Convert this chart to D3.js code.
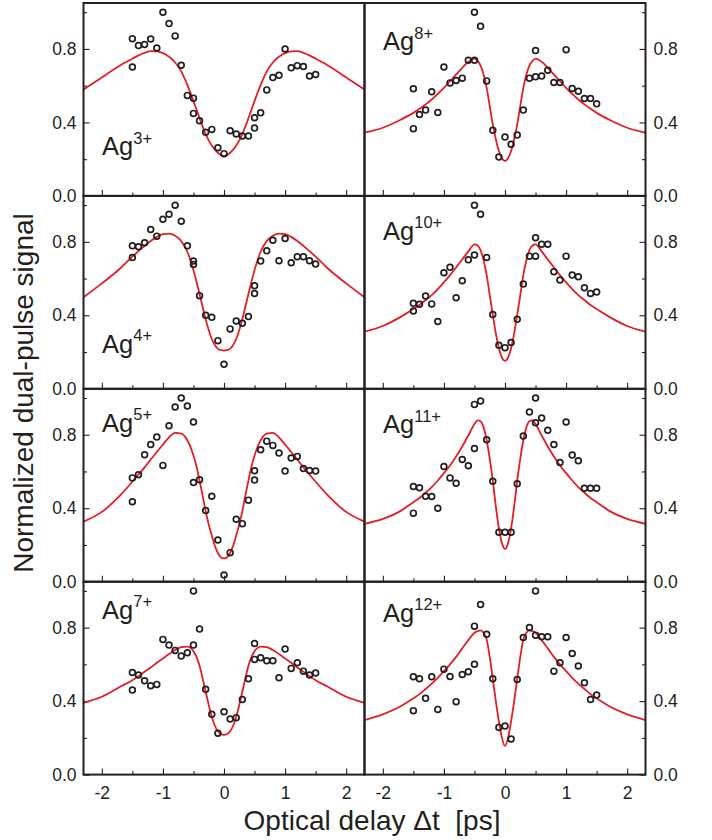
<!DOCTYPE html>
<html>
<head>
<meta charset="utf-8">
<script src="https://cdn.jsdelivr.net/npm/d3@7"></script>
<style>
  body { margin: 0; background: #fff; }
  svg { display: block; font-family: "Liberation Sans", Arial, Helvetica, sans-serif; }
</style>
</head>
<body>
<svg id="chart"></svg>
<script>
// delay grid (ps) used for all fitted curves
const fitDelay = [-2.3, -2.0, -1.7, -1.5, -1.4, -1.3, -1.2, -1.1, -1.0, -0.9, -0.8, -0.7, -0.6, -0.5, -0.45, -0.4, -0.35, -0.3, -0.25, -0.2, -0.15, -0.1, -0.05,
  0, 0.05, 0.1, 0.15, 0.2, 0.25, 0.3, 0.35, 0.4, 0.45, 0.5, 0.6, 0.7, 0.8, 0.9, 1.0, 1.1, 1.2, 1.3, 1.4, 1.5, 1.7, 2.0, 2.3]

const ag3Fit = [0.579, 0.645, 0.71, 0.747, 0.765, 0.779, 0.788, 0.787, 0.777, 0.757, 0.726, 0.678, 0.604, 0.516, 0.47, 0.423, 0.378, 0.336, 0.302, 0.274, 0.252, 0.235, 0.222,
  0.217, 0.222, 0.235, 0.252, 0.274, 0.302, 0.336, 0.378, 0.423, 0.47, 0.516, 0.604, 0.678, 0.726, 0.757, 0.777, 0.787, 0.788, 0.779, 0.765, 0.747, 0.71, 0.645, 0.579]
const ag4Fit = [0.498, 0.574, 0.655, 0.719, 0.749, 0.778, 0.805, 0.827, 0.842, 0.845, 0.833, 0.804, 0.746, 0.646, 0.583, 0.516, 0.447, 0.378, 0.32, 0.271, 0.239, 0.219, 0.21,
  0.208, 0.21, 0.219, 0.239, 0.271, 0.32, 0.378, 0.447, 0.516, 0.583, 0.646, 0.746, 0.804, 0.833, 0.845, 0.842, 0.827, 0.805, 0.778, 0.749, 0.719, 0.655, 0.574, 0.498]
const ag5Fit = [0.327, 0.38, 0.47, 0.544, 0.583, 0.622, 0.665, 0.706, 0.747, 0.786, 0.81, 0.806, 0.77, 0.687, 0.627, 0.551, 0.469, 0.384, 0.311, 0.251, 0.196, 0.156, 0.133,
  0.127, 0.133, 0.156, 0.196, 0.251, 0.311, 0.384, 0.469, 0.551, 0.627, 0.687, 0.77, 0.806, 0.81, 0.786, 0.747, 0.706, 0.665, 0.622, 0.583, 0.544, 0.47, 0.38, 0.327]
const ag7Fit = [0.391, 0.424, 0.478, 0.514, 0.536, 0.56, 0.583, 0.609, 0.632, 0.656, 0.678, 0.694, 0.697, 0.672, 0.641, 0.592, 0.524, 0.451, 0.379, 0.315, 0.266, 0.236, 0.221,
  0.216, 0.221, 0.236, 0.266, 0.315, 0.379, 0.451, 0.524, 0.592, 0.641, 0.672, 0.697, 0.694, 0.678, 0.656, 0.632, 0.609, 0.583, 0.56, 0.536, 0.514, 0.478, 0.424, 0.391]
const ag8Fit = [0.344, 0.371, 0.416, 0.452, 0.474, 0.498, 0.525, 0.556, 0.588, 0.624, 0.661, 0.697, 0.73, 0.747, 0.735, 0.709, 0.661, 0.588, 0.489, 0.389, 0.308, 0.244, 0.205,
  0.19, 0.205, 0.244, 0.308, 0.389, 0.489, 0.588, 0.661, 0.709, 0.735, 0.747, 0.73, 0.697, 0.661, 0.624, 0.588, 0.556, 0.525, 0.498, 0.474, 0.452, 0.416, 0.371, 0.344]
const ag10Fit = [0.311, 0.342, 0.393, 0.434, 0.456, 0.483, 0.51, 0.543, 0.579, 0.619, 0.661, 0.704, 0.748, 0.786, 0.78, 0.755, 0.70, 0.619, 0.51, 0.402, 0.302, 0.221, 0.17,
  0.152, 0.17, 0.221, 0.302, 0.402, 0.51, 0.619, 0.70, 0.755, 0.78, 0.786, 0.748, 0.704, 0.661, 0.619, 0.579, 0.543, 0.51, 0.483, 0.456, 0.434, 0.393, 0.342, 0.311]
const ag11Fit = [0.315, 0.342, 0.387, 0.433, 0.456, 0.484, 0.515, 0.551, 0.591, 0.633, 0.682, 0.736, 0.796, 0.858, 0.878, 0.873, 0.84, 0.77, 0.67, 0.55, 0.41, 0.29, 0.21,
  0.178, 0.21, 0.29, 0.41, 0.55, 0.67, 0.77, 0.84, 0.873, 0.878, 0.858, 0.796, 0.736, 0.682, 0.633, 0.591, 0.551, 0.515, 0.484, 0.456, 0.433, 0.387, 0.342, 0.315]
const ag12Fit = [0.297, 0.328, 0.373, 0.415, 0.438, 0.466, 0.495, 0.527, 0.563, 0.60, 0.641, 0.687, 0.732, 0.772, 0.781, 0.785, 0.772, 0.735, 0.64, 0.522, 0.40, 0.29, 0.2,
  0.156, 0.2, 0.29, 0.40, 0.522, 0.64, 0.735, 0.772, 0.785, 0.781, 0.772, 0.732, 0.687, 0.641, 0.60, 0.563, 0.527, 0.495, 0.466, 0.438, 0.415, 0.373, 0.328, 0.297]

// measured points [delay, signal]
const ag3Points = [[-1.5, 0.856], [-1.5, 0.702], [-1.4, 0.818], [-1.3, 0.824], [-1.2, 0.854], [-1.1, 0.805], [-1.0, 1.0], [-0.9, 0.938], [-0.8, 0.871], [-0.7, 0.711],
  [-0.6, 0.547], [-0.5, 0.532], [-0.5, 0.449], [-0.4, 0.409], [-0.3, 0.346], [-0.2, 0.362], [-0.1, 0.262], [0, 0.23], [0.1, 0.355], [0.2, 0.337], [0.3, 0.326],
  [0.4, 0.326], [0.5, 0.369], [0.5, 0.425], [0.6, 0.452], [0.7, 0.577], [0.8, 0.644], [0.9, 0.657], [1.0, 0.8], [1.1, 0.697], [1.2, 0.709], [1.3, 0.704], [1.4, 0.653], [1.5, 0.661]]
const ag4Points = [[-1.5, 0.778], [-1.5, 0.715], [-1.4, 0.773], [-1.3, 0.795], [-1.2, 0.867], [-1.1, 0.831], [-1.0, 0.923], [-0.9, 0.95], [-0.8, 0.999], [-0.7, 0.912],
  [-0.6, 0.778], [-0.5, 0.695], [-0.5, 0.677], [-0.4, 0.507], [-0.3, 0.40], [-0.2, 0.389], [-0.1, 0.262], [0, 0.134], [0.1, 0.326], [0.2, 0.369], [0.3, 0.357],
  [0.4, 0.393], [0.5, 0.561], [0.5, 0.519], [0.6, 0.695], [0.7, 0.751], [0.8, 0.809], [0.9, 0.697], [1.0, 0.818], [1.1, 0.686], [1.2, 0.719], [1.3, 0.719], [1.4, 0.697], [1.5, 0.679]]
const ag5Points = [[-1.5, 0.565], [-1.5, 0.435], [-1.4, 0.582], [-1.3, 0.691], [-1.2, 0.747], [-1.1, 0.787], [-1.0, 0.633], [-0.9, 0.849], [-0.8, 0.951], [-0.7, 1.0],
  [-0.6, 0.956], [-0.5, 0.869], [-0.5, 0.54], [-0.4, 0.555], [-0.3, 0.387], [-0.2, 0.465], [-0.1, 0.227], [0, 0.036], [0.1, 0.158], [0.2, 0.34], [0.3, 0.316],
  [0.4, 0.444], [0.5, 0.604], [0.5, 0.553], [0.6, 0.718], [0.7, 0.765], [0.8, 0.742], [0.9, 0.70], [1.0, 0.602], [1.1, 0.673], [1.2, 0.682], [1.3, 0.616], [1.4, 0.605], [1.5, 0.602]]
const ag7Points = [[-1.5, 0.556], [-1.5, 0.46], [-1.4, 0.542], [-1.3, 0.511], [-1.2, 0.484], [-1.1, 0.491], [-1.0, 0.736], [-0.9, 0.705], [-0.8, 0.676], [-0.7, 0.645],
  [-0.6, 0.663], [-0.5, 1.0], [-0.5, 0.705], [-0.4, 0.792], [-0.3, 0.464], [-0.2, 0.328], [-0.1, 0.225], [0, 0.342], [0.1, 0.303], [0.2, 0.31], [0.3, 0.409],
  [0.4, 0.522], [0.5, 0.714], [0.5, 0.627], [0.6, 0.636], [0.7, 0.62], [0.8, 0.62], [0.9, 0.527], [1.0, 0.683], [1.1, 0.578], [1.2, 0.609], [1.3, 0.563], [1.4, 0.542], [1.5, 0.553]]
const ag8Points = [[-1.5, 0.583], [-1.5, 0.366], [-1.4, 0.443], [-1.3, 0.467], [-1.2, 0.567], [-1.1, 0.454], [-1.0, 0.702], [-0.9, 0.615], [-0.8, 0.628], [-0.7, 0.641],
  [-0.6, 0.738], [-0.5, 0.738], [-0.5, 1.0], [-0.4, 0.923], [-0.3, 0.626], [-0.2, 0.357], [-0.1, 0.212], [0, 0.32], [0.1, 0.281], [0.2, 0.331], [0.3, 0.467],
  [0.4, 0.641], [0.5, 0.648], [0.5, 0.791], [0.6, 0.652], [0.7, 0.684], [0.8, 0.617], [0.9, 0.617], [1.0, 0.796], [1.1, 0.585], [1.2, 0.57], [1.3, 0.53], [1.4, 0.53], [1.5, 0.501]]
const ag10Points = [[-1.5, 0.465], [-1.5, 0.424], [-1.4, 0.46], [-1.3, 0.505], [-1.2, 0.462], [-1.1, 0.366], [-1.0, 0.632], [-0.9, 0.661], [-0.8, 0.496], [-0.7, 0.588],
  [-0.6, 0.702], [-0.5, 0.728], [-0.5, 0.999], [-0.4, 0.95], [-0.3, 0.715], [-0.2, 0.404], [-0.1, 0.237], [0, 0.224], [0.1, 0.252], [0.2, 0.378], [0.3, 0.57],
  [0.4, 0.722], [0.5, 0.722], [0.5, 0.822], [0.6, 0.787], [0.7, 0.787], [0.8, 0.637], [0.9, 0.592], [1.0, 0.722], [1.1, 0.619], [1.2, 0.61], [1.3, 0.55], [1.4, 0.519], [1.5, 0.527]]
const ag11Points = [[-1.5, 0.518], [-1.5, 0.373], [-1.4, 0.511], [-1.3, 0.465], [-1.2, 0.464], [-1.1, 0.40], [-1.0, 0.627], [-0.9, 0.565], [-0.8, 0.536], [-0.7, 0.665],
  [-0.6, 0.631], [-0.5, 0.725], [-0.5, 0.965], [-0.4, 0.984], [-0.3, 0.773], [-0.2, 0.547], [-0.1, 0.269], [0, 0.269], [0.1, 0.269], [0.2, 0.533], [0.3, 0.793],
  [0.4, 0.924], [0.5, 0.865], [0.5, 1.0], [0.6, 0.891], [0.7, 0.824], [0.8, 0.747], [0.9, 0.649], [1.0, 0.869], [1.1, 0.689], [1.2, 0.658], [1.3, 0.509], [1.4, 0.509], [1.5, 0.509]]
const ag12Points = [[-1.5, 0.533], [-1.5, 0.348], [-1.4, 0.522], [-1.3, 0.415], [-1.2, 0.533], [-1.1, 0.355], [-1.0, 0.574], [-0.9, 0.534], [-0.8, 0.397], [-0.7, 0.545],
  [-0.6, 0.56], [-0.5, 0.601], [-0.5, 0.808], [-0.4, 0.926], [-0.3, 0.764], [-0.2, 0.522], [-0.1, 0.257], [0, 0.264], [0.1, 0.194], [0.2, 0.518], [0.3, 0.746],
  [0.4, 0.801], [0.5, 0.759], [0.5, 1.0], [0.6, 0.75], [0.7, 0.75], [0.8, 0.563], [0.9, 0.609], [1.0, 0.746], [1.1, 0.659], [1.2, 0.591], [1.3, 0.5], [1.4, 0.409], [1.5, 0.433]]

const xMajor = [-2, -1, 0, 1, 2]
const xMinor = [-1.5, -0.5, 0.5, 1.5]
const yMajor = [0, 0.4, 0.8]
const yMinor = [0.2, 0.6, 1.0]

// panel layout: column, row, label baseline offset from panel top
const panels = [
  { ion: '3+', fit: ag3Fit, points: ag3Points, col: 0, row: 0, labelY: 152 },
  { ion: '4+', fit: ag4Fit, points: ag4Points, col: 0, row: 1, labelY: 157 },
  { ion: '5+', fit: ag5Fit, points: ag5Points, col: 0, row: 2, labelY: 43 },
  { ion: '7+', fit: ag7Fit, points: ag7Points, col: 0, row: 3, labelY: 37 },
  { ion: '8+', fit: ag8Fit, points: ag8Points, col: 1, row: 0, labelY: 47 },
  { ion: '10+', fit: ag10Fit, points: ag10Points, col: 1, row: 1, labelY: 44 },
  { ion: '11+', fit: ag11Fit, points: ag11Points, col: 1, row: 2, labelY: 44.5 },
  { ion: '12+', fit: ag12Fit, points: ag12Points, col: 1, row: 3, labelY: 40 }
]

// MARGIN CONVENTION
const totalWidth = 712,
  totalHeight = 840,
  margin = { left: 83.5, top: 3 },
  panelW = 281,
  panelH = 192.9

const ink = '#231f20',
  red = '#e41e26',
  tickFont = 17.5

const svg = d3.select('#chart')
  .attr('width', totalWidth)
  .attr('height', totalHeight)

svg.append('rect')
  .attr('width', totalWidth)
  .attr('height', totalHeight)
  .attr('fill', '#fff')

const x = d3.scaleLinear().domain([-2.3, 2.3]).range([0, panelW])
const y = d3.scaleLinear().domain([0, 1.05]).range([panelH, 0])

const line = d3.line()
  .x((d, i) => x(fitDelay[i]))
  .y(d => y(d))
  .curve(d3.curveMonotoneX)

function styleAxis(g) {
  g.select('.domain').remove()
  g.selectAll('.tick line').attr('stroke', ink).attr('stroke-width', 1.1)
  g.selectAll('.tick text')
    .attr('fill', ink)
    .attr('font-size', tickFont)
    .attr('font-family', '"Liberation Sans", Arial, Helvetica, sans-serif')
}

panels.forEach(p => {
  const plot = svg.append('g')
    .attr('transform', `translate(${margin.left + p.col * panelW}, ${margin.top + p.row * panelH})`)

  // x ticks (inward), labels only on the bottom row
  const xAxis = d3.axisBottom(x)
    .tickValues(xMajor)
    .tickSize(-6)
    .tickPadding(11.5)
    .tickFormat(p.row === 3 ? (d => String(d)) : '')
  plot.append('g')
    .attr('transform', `translate(0, ${panelH})`)
    .call(xAxis)
    .call(styleAxis)
  plot.append('g')
    .attr('transform', `translate(0, ${panelH})`)
    .call(d3.axisBottom(x).tickValues(xMinor).tickSize(-3.5).tickFormat(''))
    .call(styleAxis)

  // y ticks: left column on the left, right column on the right
  const yAxis = p.col === 0 ? d3.axisLeft(y) : d3.axisRight(y)
  const yMinorAxis = p.col === 0 ? d3.axisLeft(y) : d3.axisRight(y)
  const yPos = p.col === 0 ? 0 : panelW
  plot.append('g')
    .attr('transform', `translate(${yPos}, 0)`)
    .call(yAxis.tickValues(yMajor).tickSize(-6).tickPadding(p.col === 0 ? 7 : 8).tickFormat(d3.format('.1f')))
    .call(styleAxis)
  plot.append('g')
    .attr('transform', `translate(${yPos}, 0)`)
    .call(yMinorAxis.tickValues(yMinor).tickSize(-3.5).tickFormat(''))
    .call(styleAxis)

  // fitted curve
  plot.append('path')
    .datum(p.fit)
    .attr('d', line)
    .attr('fill', 'none')
    .attr('stroke', red)
    .attr('stroke-width', 1.8)

  // measured points
  plot.selectAll('circle')
    .data(p.points)
    .enter()
    .append('circle')
      .attr('cx', d => x(d[0]))
      .attr('cy', d => y(d[1]))
      .attr('r', 2.9)
      .attr('fill', 'none')
      .attr('stroke', ink)
      .attr('stroke-width', 1.7)

  // ion label
  const label = plot.append('text')
    .attr('x', 18.5)
    .attr('y', p.labelY)
    .attr('fill', ink)
    .attr('font-size', 25.5)
  label.append('tspan').text('Ag')
  label.append('tspan')
    .attr('dy', -11.5)
    .attr('font-size', 16.5)
    .text(p.ion)

  // frame
  plot.append('rect')
    .attr('width', panelW)
    .attr('height', panelH)
    .attr('fill', 'none')
    .attr('stroke', ink)
    .attr('stroke-width', 2)
})

// AXIS TITLES
svg.append('text')
  .attr('x', 372)
  .attr('y', 830)
  .attr('text-anchor', 'middle')
  .attr('font-size', 28)
  .attr('fill', ink)
  .style('white-space', 'pre')
  .text('Optical delay \u0394t  [ps]')

svg.append('text')
  .attr('transform', 'translate(33, 393) rotate(-90)')
  .attr('text-anchor', 'middle')
  .attr('font-size', 28)
  .attr('fill', ink)
  .text('Normalized dual-pulse signal')
</script>
</body>
</html>
